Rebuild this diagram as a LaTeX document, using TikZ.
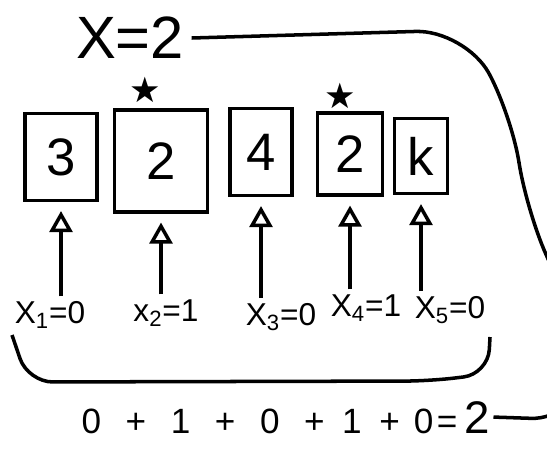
\documentclass[tikz,border=0pt]{standalone}
\usepackage{fontspec}
\setmainfont{Liberation Sans}
\newfontfamily\symbfont{DejaVu Sans}
\usetikzlibrary{arrows.meta}
\begin{document}
\begin{tikzpicture}[x=0.02cm,y=-0.02cm,line width=2pt]
	\useasboundingbox (0,0) rectangle (547,457);
	\tikzstyle{cell}=[draw,inner sep=0pt,font=\fontsize{30}{36}\selectfont]
	\tikzstyle{lab}=[font=\fontsize{18}{22}\selectfont,inner sep=2pt]
	\tikzstyle{starmark}=[font=\symbfont\fontsize{20}{22}\selectfont]
	\tikzstyle{sumtext}=[font=\fontsize{20}{24}\selectfont,anchor=base west,inner xsep=1pt]

	\node[font=\fontsize{34}{40}\selectfont] (X) at (130,38) {X=2};

	\node[cell,minimum width=1.44cm,minimum height=1.74cm] (B1) at (61,157) {3};
	\node[cell,minimum width=1.86cm,minimum height=2.04cm] (B2) at (161,161) {2};
	\node[cell,minimum width=1.24cm,minimum height=1.74cm] (B3) at (261,152) {4};
	\node[cell,minimum width=1.3cm,minimum height=1.64cm] (B4) at (350,154) {2};
	\node[cell,minimum width=1.06cm,minimum height=1.5cm] (B5) at (421,156) {k};

	\node[starmark] (S2) at (145,90) {★};
	\node[starmark] (S4) at (340,96) {★};

	\node[lab] (L1) at (50,315) {X\textsubscript{1}=0};
	\node[lab] (L2) at (166,313) {x\textsubscript{2}=1};
	\node[lab] (L3) at (281,317) {X\textsubscript{3}=0};
	\node[lab] (L4) at (366,308) {X\textsubscript{4}=1};
	\node[lab] (L5) at (450,310) {X\textsubscript{5}=0};

	\node[sumtext] (sum) at (78,433) {0\hspace{14pt}+\hspace{14pt}1\hspace{14pt}+\hspace{14pt}0\hspace{14pt}+\hspace{10pt}1\hspace{10pt}+\hspace{8pt}0\hspace{2pt}=};
	\node[sumtext,font=\fontsize{26}{30}\selectfont] (res) at (sum.base east) {2};

	\tikzstyle{pointer}=[-{Triangle[open,length=12pt,width=13pt]},shorten >=5pt]
	\draw[pointer] (L1.north -| B1.south) -- (B1.south);
	\draw[pointer] (L2.north -| B2.south) -- (B2.south);
	\draw[pointer] (L3.north -| B3.south) -- (B3.south);
	\draw[pointer] (L4.north -| B4.south) -- (B4.south);
	\draw[pointer] (L5.north -| B5.south) -- (B5.south);

	\draw[rounded corners=14pt] (12,335) -- (28,382) -- (430,381) -- (488,374) -- (490,337);

	\draw[rounded corners=28pt] (X.east) -- (465,30) -- (512,115) -- (526,210) -- (580,330) -- (580,420) -- (res.east);
\end{tikzpicture}
\end{document}
